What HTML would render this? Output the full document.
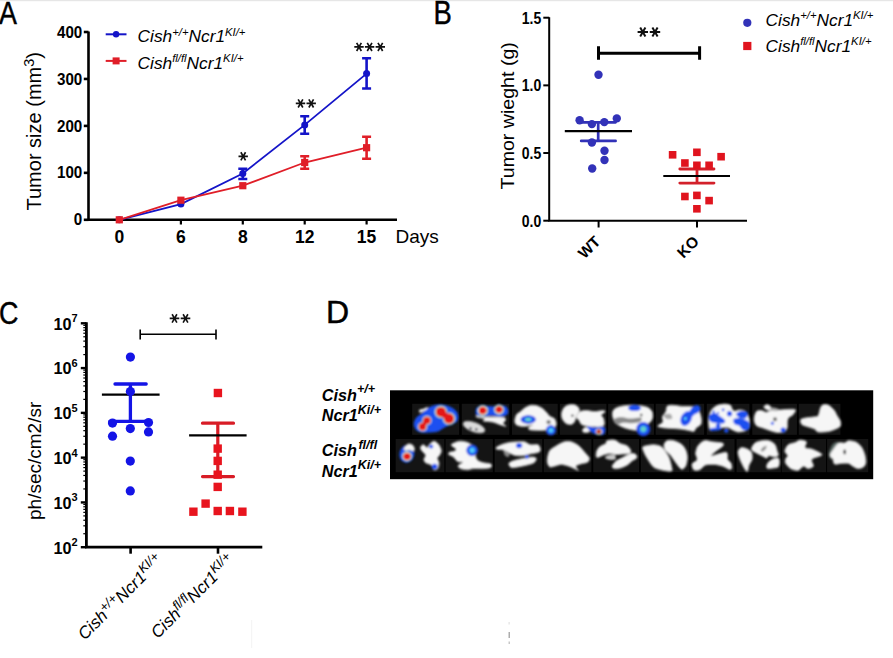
<!DOCTYPE html><html><head><meta charset="utf-8"><style>
html,body{margin:0;padding:0;background:#fff;width:893px;height:658px;overflow:hidden}
svg{display:block;filter:blur(0.3px)}
text{font-family:"Liberation Sans", sans-serif}
.b{font-weight:bold}
.i{font-style:italic}
</style></head><body>
<svg width="893" height="658" viewBox="0 0 893 658">
<rect x="0" y="0" width="893" height="658" fill="#fff"/>
<rect x="0" y="0" width="893" height="1.2" fill="#e6e6e6"/>

<text x="0" y="0" font-size="32" fill="#000" stroke="#000" stroke-width="0.45" transform="translate(-1,24) scale(0.84,1)">A</text>
<text x="0" y="0" font-size="33.5" fill="#000" stroke="#000" stroke-width="0.45" transform="translate(433.5,24.3) scale(0.82,1)">B</text>
<text x="0" y="0" font-size="32" fill="#000" stroke="#000" stroke-width="0.45" transform="translate(-1,324) scale(0.84,1)">C</text>
<text x="326" y="323" font-size="32" stroke="#000" stroke-width="0.5" transform="translate(327,323) scale(1.0,1) translate(-327,-323)">D</text>
<g stroke="#000" stroke-width="2.6" fill="none">
<path d="M88.5,31.5V221.10000000000002M87.2,219.8H397"/>
<path d="M83.8,219.80H88.5"/>
<path d="M83.8,172.85H88.5"/>
<path d="M83.8,125.90H88.5"/>
<path d="M83.8,78.95H88.5"/>
<path d="M83.8,32.00H88.5"/>
<path d="M180.9,219.8V224.5" stroke-width="2.2"/>
<path d="M242.8,219.8V224.5" stroke-width="2.2"/>
<path d="M304.7,219.8V224.5" stroke-width="2.2"/>
<path d="M366.6,219.8V224.5" stroke-width="2.2"/>
</g>
<text class="b" transform="translate(82.3,225.40) scale(0.95,1)" font-size="16" text-anchor="end">0</text>
<text class="b" transform="translate(82.3,178.45) scale(0.95,1)" font-size="16" text-anchor="end">100</text>
<text class="b" transform="translate(82.3,131.50) scale(0.95,1)" font-size="16" text-anchor="end">200</text>
<text class="b" transform="translate(82.3,84.55) scale(0.95,1)" font-size="16" text-anchor="end">300</text>
<text class="b" transform="translate(82.3,37.60) scale(0.95,1)" font-size="16" text-anchor="end">400</text>
<text class="b" x="119.3" y="243.2" font-size="17.5" text-anchor="middle">0</text>
<text class="b" x="180.9" y="243.2" font-size="17.5" text-anchor="middle">6</text>
<text class="b" x="242.8" y="243.2" font-size="17.5" text-anchor="middle">8</text>
<text class="b" x="304.7" y="243.2" font-size="17.5" text-anchor="middle">12</text>
<text class="b" x="366.6" y="243.2" font-size="17.5" text-anchor="middle">15</text>
<text x="395.5" y="243" font-size="19">Days</text>
<text transform="translate(41,210.5) rotate(-90)" font-size="20">Tumor size (mm<tspan font-size="14.5" dy="-7.5">3</tspan><tspan dy="7.5">)</tspan></text>
<polyline points="119.3,219.8 180.9,204.1 242.8,173.5 304.7,124.9 366.6,73.6" stroke="#1414c8" stroke-width="1.8" fill="none"/>
<circle cx="119.3" cy="219.8" r="3.5" fill="#1414c8"/>
<circle cx="180.9" cy="204.1" r="3.5" fill="#1414c8"/>
<circle cx="242.8" cy="173.5" r="3.5" fill="#1414c8"/>
<circle cx="304.7" cy="124.9" r="3.5" fill="#1414c8"/>
<circle cx="366.6" cy="73.6" r="3.5" fill="#1414c8"/>
<path d="M242.8,168.8V179M238.3,168.8H247.3M238.3,179H247.3" stroke="#1414c8" stroke-width="2.6" fill="none"/>
<path d="M304.7,116.2V133.7M300.2,116.2H309.2M300.2,133.7H309.2" stroke="#1414c8" stroke-width="2.6" fill="none"/>
<path d="M366.6,58.3V88.5M362.1,58.3H371.1M362.1,88.5H371.1" stroke="#1414c8" stroke-width="2.6" fill="none"/>
<polyline points="119.3,219.8 180.9,200.2 242.8,185.7 304.7,162.5 366.6,147.7" stroke="#e01e28" stroke-width="1.8" fill="none"/>
<rect x="115.7" y="216.20000000000002" width="7.2" height="7.2" fill="#e01e28"/>
<rect x="177.3" y="196.6" width="7.2" height="7.2" fill="#e01e28"/>
<rect x="239.20000000000002" y="182.1" width="7.2" height="7.2" fill="#e01e28"/>
<rect x="301.09999999999997" y="158.9" width="7.2" height="7.2" fill="#e01e28"/>
<rect x="363.0" y="144.1" width="7.2" height="7.2" fill="#e01e28"/>
<path d="M304.7,156.3V168.8M300.2,156.3H309.2M300.2,168.8H309.2" stroke="#e01e28" stroke-width="2.6" fill="none"/>
<path d="M366.6,136.8V158.7M362.1,136.8H371.1M362.1,158.7H371.1" stroke="#e01e28" stroke-width="2.6" fill="none"/>
<path d="M238.50,156.30L247.90,156.30M240.85,152.23L245.55,160.37M245.55,152.23L240.85,160.37" stroke="#111" stroke-width="1.65" fill="none"/>
<path d="M295.80,103.40L305.20,103.40M298.15,99.33L302.85,107.47M302.85,99.33L298.15,107.47" stroke="#111" stroke-width="1.65" fill="none"/>
<path d="M306.50,103.40L315.90,103.40M308.85,99.33L313.55,107.47M313.55,99.33L308.85,107.47" stroke="#111" stroke-width="1.65" fill="none"/>
<path d="M354.30,46.90L363.70,46.90M356.65,42.83L361.35,50.97M361.35,42.83L356.65,50.97" stroke="#111" stroke-width="1.65" fill="none"/>
<path d="M364.90,46.90L374.30,46.90M367.25,42.83L371.95,50.97M371.95,42.83L367.25,50.97" stroke="#111" stroke-width="1.65" fill="none"/>
<path d="M375.60,46.90L385.00,46.90M377.95,42.83L382.65,50.97M382.65,42.83L377.95,50.97" stroke="#111" stroke-width="1.65" fill="none"/>
<path d="M105.7,34.3H126.5" stroke="#1414c8" stroke-width="2"/><circle cx="116.1" cy="34.3" r="3.2" fill="#1414c8"/>
<path d="M105.7,60.9H126.5" stroke="#e01e28" stroke-width="2"/><rect x="112.6" y="57.4" width="7" height="7" fill="#e01e28"/>
<text class="i" x="137.6" y="42.4" font-size="17.3">Cish<tspan font-size="11.3" dy="-6.7">+/+</tspan><tspan dy="6.7">Ncr1</tspan><tspan font-size="11.3" dy="-6.7">KI/+</tspan></text>
<text class="i" x="137.6" y="68.7" font-size="17.3">Cish<tspan font-size="11.3" dy="-6.7">fl/fl</tspan><tspan dy="6.7">Ncr1</tspan><tspan font-size="11.3" dy="-6.7">KI/+</tspan></text>
<g stroke="#000" stroke-width="2.0" fill="none">
<path d="M549.2,17.19999999999999V221.7M548.2,220.7H747"/>
<path d="M543.3,220.70H549.2"/>
<path d="M543.3,153.03H549.2"/>
<path d="M543.3,85.37H549.2"/>
<path d="M543.3,17.70H549.2"/>
<path d="M598.6,220.7V227.5"/>
<path d="M697,220.7V227.5"/>
</g>
<text class="b" transform="translate(541.3,226.60) scale(0.85,1)" font-size="16.5" text-anchor="end">0.0</text>
<text class="b" transform="translate(541.3,158.93) scale(0.85,1)" font-size="16.5" text-anchor="end">0.5</text>
<text class="b" transform="translate(541.3,91.27) scale(0.85,1)" font-size="16.5" text-anchor="end">1.0</text>
<text class="b" transform="translate(541.3,23.60) scale(0.85,1)" font-size="16.5" text-anchor="end">1.5</text>
<text transform="translate(514,189.5) rotate(-90) scale(1.06,1)" font-size="18.5">Tumor wieght (g)</text>
<text class="b" transform="translate(601.5,242.5) rotate(-45)" font-size="15.5" text-anchor="end">WT</text>
<text class="b" transform="translate(700,242.5) rotate(-45)" font-size="15.5" text-anchor="end">KO</text>
<path d="M598.5,53.3H699.6M598.5,46.2V59.8M699.6,46.2V59.8" stroke="#000" stroke-width="3" fill="none"/>
<path d="M637.60,32.10L648.00,32.10M640.20,27.60L645.40,36.60M645.40,27.60L640.20,36.60" stroke="#111" stroke-width="2.0" fill="none"/>
<path d="M649.80,32.10L660.20,32.10M652.40,27.60L657.60,36.60M657.60,27.60L652.40,36.60" stroke="#111" stroke-width="2.0" fill="none"/>
<path d="M598.2,122.3V141M581.2,122.3H615.6M581.2,140.9H615.6" stroke="#3232b8" stroke-width="2.7" stroke-linecap="round" fill="none"/>
<path d="M564.8,131.2H632" stroke="#000" stroke-width="2.2"/>
<circle cx="598.5" cy="74.8" r="4.2" fill="#3232b8"/>
<circle cx="579.6" cy="120.3" r="4.2" fill="#3232b8"/>
<circle cx="591.9" cy="124.1" r="4.2" fill="#3232b8"/>
<circle cx="604.3" cy="122.1" r="4.2" fill="#3232b8"/>
<circle cx="616.8" cy="118.4" r="4.2" fill="#3232b8"/>
<circle cx="591.9" cy="142.5" r="4.2" fill="#3232b8"/>
<circle cx="604.5" cy="150.8" r="4.2" fill="#3232b8"/>
<circle cx="604.5" cy="160" r="4.2" fill="#3232b8"/>
<circle cx="592.2" cy="168.5" r="4.2" fill="#3232b8"/>
<path d="M697,169V183.1M679.8,169H714M679.8,183.1H714" stroke="#d3202a" stroke-width="2.8" stroke-linecap="round" fill="none"/>
<path d="M663.3,176H730" stroke="#000" stroke-width="2.2"/>
<rect x="668.8000000000001" y="151.0" width="7.6" height="7.6" fill="#e0141e"/>
<rect x="693.1" y="148.5" width="7.6" height="7.6" fill="#e0141e"/>
<rect x="717.3000000000001" y="152.89999999999998" width="7.6" height="7.6" fill="#e0141e"/>
<rect x="681.1" y="159.2" width="7.6" height="7.6" fill="#e0141e"/>
<rect x="693.1" y="161.5" width="7.6" height="7.6" fill="#e0141e"/>
<rect x="705.3000000000001" y="161.5" width="7.6" height="7.6" fill="#e0141e"/>
<rect x="681.1" y="192.7" width="7.6" height="7.6" fill="#e0141e"/>
<rect x="693.1" y="191.6" width="7.6" height="7.6" fill="#e0141e"/>
<rect x="705.3000000000001" y="196.79999999999998" width="7.6" height="7.6" fill="#e0141e"/>
<rect x="693.1" y="205.0" width="7.6" height="7.6" fill="#e0141e"/>
<circle cx="747.3" cy="22.8" r="4.1" fill="#3232b8"/>
<rect x="743.2" y="41.9" width="8.2" height="8.2" fill="#e0141e"/>
<text class="i" x="765.6" y="25.6" font-size="17.3">Cish<tspan font-size="11.3" dy="-6.7">+/+</tspan><tspan dy="6.7">Ncr1</tspan><tspan font-size="11.3" dy="-6.7">KI/+</tspan></text>
<text class="i" x="765.6" y="51.7" font-size="17.3">Cish<tspan font-size="11.3" dy="-6.7">fl/fl</tspan><tspan dy="6.7">Ncr1</tspan><tspan font-size="11.3" dy="-6.7">KI/+</tspan></text>
<g stroke="#000" fill="none">
<path d="M86.4,322.3V548.5M85.10000000000001,547.2H262.3" stroke-width="2.8"/>
<path d="M80.8,547.20H86.4" stroke-width="2.4"/>
<path d="M80.8,502.42H86.4" stroke-width="2.4"/>
<path d="M80.8,457.64H86.4" stroke-width="2.4"/>
<path d="M80.8,412.86H86.4" stroke-width="2.4"/>
<path d="M80.8,368.08H86.4" stroke-width="2.4"/>
<path d="M80.8,323.30H86.4" stroke-width="2.4"/>
<path d="M83.3,533.72H86.4" stroke-width="1.2"/>
<path d="M83.3,525.83H86.4" stroke-width="1.2"/>
<path d="M83.3,520.24H86.4" stroke-width="1.2"/>
<path d="M83.3,515.90H86.4" stroke-width="1.2"/>
<path d="M83.3,512.35H86.4" stroke-width="1.2"/>
<path d="M83.3,509.36H86.4" stroke-width="1.2"/>
<path d="M83.3,506.76H86.4" stroke-width="1.2"/>
<path d="M83.3,504.47H86.4" stroke-width="1.2"/>
<path d="M83.3,488.94H86.4" stroke-width="1.2"/>
<path d="M83.3,481.05H86.4" stroke-width="1.2"/>
<path d="M83.3,475.46H86.4" stroke-width="1.2"/>
<path d="M83.3,471.12H86.4" stroke-width="1.2"/>
<path d="M83.3,467.57H86.4" stroke-width="1.2"/>
<path d="M83.3,464.58H86.4" stroke-width="1.2"/>
<path d="M83.3,461.98H86.4" stroke-width="1.2"/>
<path d="M83.3,459.69H86.4" stroke-width="1.2"/>
<path d="M83.3,444.16H86.4" stroke-width="1.2"/>
<path d="M83.3,436.27H86.4" stroke-width="1.2"/>
<path d="M83.3,430.68H86.4" stroke-width="1.2"/>
<path d="M83.3,426.34H86.4" stroke-width="1.2"/>
<path d="M83.3,422.79H86.4" stroke-width="1.2"/>
<path d="M83.3,419.80H86.4" stroke-width="1.2"/>
<path d="M83.3,417.20H86.4" stroke-width="1.2"/>
<path d="M83.3,414.91H86.4" stroke-width="1.2"/>
<path d="M83.3,399.38H86.4" stroke-width="1.2"/>
<path d="M83.3,391.49H86.4" stroke-width="1.2"/>
<path d="M83.3,385.90H86.4" stroke-width="1.2"/>
<path d="M83.3,381.56H86.4" stroke-width="1.2"/>
<path d="M83.3,378.01H86.4" stroke-width="1.2"/>
<path d="M83.3,375.02H86.4" stroke-width="1.2"/>
<path d="M83.3,372.42H86.4" stroke-width="1.2"/>
<path d="M83.3,370.13H86.4" stroke-width="1.2"/>
<path d="M83.3,354.60H86.4" stroke-width="1.2"/>
<path d="M83.3,346.71H86.4" stroke-width="1.2"/>
<path d="M83.3,341.12H86.4" stroke-width="1.2"/>
<path d="M83.3,336.78H86.4" stroke-width="1.2"/>
<path d="M83.3,333.23H86.4" stroke-width="1.2"/>
<path d="M83.3,330.24H86.4" stroke-width="1.2"/>
<path d="M83.3,327.64H86.4" stroke-width="1.2"/>
<path d="M83.3,325.35H86.4" stroke-width="1.2"/>
<path d="M130.6,547.2V553.7" stroke-width="2.6"/>
<path d="M218,547.2V553.7" stroke-width="2.6"/>
</g>
<text class="b" x="53.5" y="553.50" font-size="16.2">10<tspan font-size="11" dy="-7.3">2</tspan></text>
<text class="b" x="53.5" y="508.72" font-size="16.2">10<tspan font-size="11" dy="-7.3">3</tspan></text>
<text class="b" x="53.5" y="463.94" font-size="16.2">10<tspan font-size="11" dy="-7.3">4</tspan></text>
<text class="b" x="53.5" y="419.16" font-size="16.2">10<tspan font-size="11" dy="-7.3">5</tspan></text>
<text class="b" x="53.5" y="374.38" font-size="16.2">10<tspan font-size="11" dy="-7.3">6</tspan></text>
<text class="b" x="53.5" y="329.60" font-size="16.2">10<tspan font-size="11" dy="-7.3">7</tspan></text>
<text transform="translate(41.2,520) rotate(-90)" font-size="19">ph/sec/cm2/sr</text>
<path d="M140.2,334.3H216M140.2,329.5V339.6M216,329.5V339.6" stroke="#000" stroke-width="1.6" fill="none"/>
<path d="M169.70,318.40L179.30,318.40M172.10,314.24L176.90,322.56M176.90,314.24L172.10,322.56" stroke="#111" stroke-width="1.6" fill="none"/>
<path d="M180.70,318.40L190.30,318.40M183.10,314.24L187.90,322.56M187.90,314.24L183.10,322.56" stroke="#111" stroke-width="1.6" fill="none"/>
<path d="M130.4,384V421.3M115,384H146.2M109.8,421.3H150" stroke="#1414e6" stroke-width="3.3" stroke-linecap="round" fill="none"/>
<path d="M101.9,394.6H159.6" stroke="#000" stroke-width="2.4"/>
<circle cx="130.4" cy="357.1" r="4.6" fill="#1414e6"/>
<circle cx="130.4" cy="391.6" r="4.6" fill="#1414e6"/>
<circle cx="112.5" cy="423.1" r="4.6" fill="#1414e6"/>
<circle cx="148.5" cy="422.5" r="4.6" fill="#1414e6"/>
<circle cx="130.3" cy="428.6" r="4.6" fill="#1414e6"/>
<circle cx="112.5" cy="436.2" r="4.6" fill="#1414e6"/>
<circle cx="148.5" cy="431.9" r="4.6" fill="#1414e6"/>
<circle cx="130.3" cy="461.1" r="4.6" fill="#1414e6"/>
<circle cx="130.3" cy="490.9" r="4.6" fill="#1414e6"/>
<path d="M217.8,423.2V476.6M202.5,423.2H233.5M202.5,476.6H233.5" stroke="#d81c26" stroke-width="3.2" stroke-linecap="round" fill="none"/>
<path d="M189.1,435.4H246.6" stroke="#000" stroke-width="2.4"/>
<rect x="213.70000000000002" y="388.8" width="8.4" height="8.4" fill="#e8141e"/>
<rect x="213.5" y="444.40000000000003" width="8.4" height="8.4" fill="#e8141e"/>
<rect x="213.5" y="456.7" width="8.4" height="8.4" fill="#e8141e"/>
<rect x="213.5" y="470.5" width="8.4" height="8.4" fill="#e8141e"/>
<rect x="213.5" y="482.7" width="8.4" height="8.4" fill="#e8141e"/>
<rect x="189.20000000000002" y="507.5" width="8.4" height="8.4" fill="#e8141e"/>
<rect x="201.4" y="499.40000000000003" width="8.4" height="8.4" fill="#e8141e"/>
<rect x="213.5" y="506.8" width="8.4" height="8.4" fill="#e8141e"/>
<rect x="225.70000000000002" y="506.8" width="8.4" height="8.4" fill="#e8141e"/>
<rect x="238.20000000000002" y="507.5" width="8.4" height="8.4" fill="#e8141e"/>
<text class="i" transform="translate(164,561.5) rotate(-45)" font-size="17" text-anchor="end">Cish<tspan font-size="13" dy="-6">+/+</tspan><tspan dy="6">Ncr1</tspan><tspan font-size="13" dy="-6">KI/+</tspan></text>
<text class="i" transform="translate(235.5,561.5) rotate(-45)" font-size="17" text-anchor="end">Cish<tspan font-size="13" dy="-6">fl/fl</tspan><tspan dy="6">Ncr1</tspan><tspan font-size="13" dy="-6">KI/+</tspan></text>
<text class="b i" x="321.8" y="400.5" font-size="16.2">Cish<tspan font-size="12.5" dy="-7.5">+/+</tspan></text>
<text class="b i" x="321.8" y="421.1" font-size="16.2">Ncr1<tspan font-size="12.5" dy="-7.5">Ki/+</tspan></text>
<text class="b i" x="321.8" y="456" font-size="16.2">Cish<tspan font-size="12.5" dy="-7.5"><tspan dx="1.5">fl/fl</tspan></tspan></text>
<text class="b i" x="321.8" y="476.6" font-size="16.2">Ncr1<tspan font-size="12.5" dy="-7.5">Ki/+</tspan></text>
<rect x="390" y="390.3" width="483.2" height="88.9" fill="#000"/>
<g fill="#141414">
<rect x="412.2" y="403.8" width="46.9" height="31"/>
<rect x="461.8" y="403.8" width="47.5" height="31"/>
<rect x="512" y="403.8" width="45.7" height="31"/>
<rect x="559.9" y="403.8" width="46.5" height="31"/>
<rect x="608.2" y="403.8" width="45.7" height="31"/>
<rect x="655.7" y="403.8" width="48.4" height="31"/>
<rect x="706.8" y="403.8" width="42.6" height="31"/>
<rect x="752.3" y="403.8" width="44.6" height="31"/>
<rect x="798.8" y="403.8" width="41.6" height="31"/>
<rect x="395.7" y="439" width="48.6" height="33.2"/>
<rect x="445.6" y="439" width="47.2" height="33.2"/>
<rect x="494.7" y="439" width="47.6" height="33.2"/>
<rect x="543.8" y="439" width="47.6" height="33.2"/>
<rect x="593.3" y="439" width="45.7" height="33.2"/>
<rect x="640.9" y="439" width="48.5" height="33.2"/>
<rect x="690.3" y="439" width="44.2" height="33.2"/>
<rect x="736.6" y="439" width="44.2" height="33.2"/>
<rect x="781.8" y="439" width="44.2" height="33.2"/>
<rect x="827.1" y="439" width="41.1" height="33.2"/>
</g>
<defs><filter id="bl" x="-5%" y="-20%" width="110%" height="140%"><feGaussianBlur stdDeviation="0.9"/></filter>
<radialGradient id="hot"><stop offset="0" stop-color="#e41414"/><stop offset="0.6" stop-color="#e41414"/><stop offset="0.7" stop-color="#f8f0c8"/><stop offset="0.8" stop-color="#90e0b0"/><stop offset="0.9" stop-color="#3088ff"/><stop offset="1" stop-color="#1a50f0" stop-opacity="0"/></radialGradient>
<radialGradient id="cool"><stop offset="0" stop-color="#80e080"/><stop offset="0.3" stop-color="#50c8e8"/><stop offset="0.55" stop-color="#1a50f0"/><stop offset="0.85" stop-color="#1a40e0"/><stop offset="1" stop-color="#1a40e0" stop-opacity="0"/></radialGradient>
<radialGradient id="cyan"><stop offset="0" stop-color="#70e8ff"/><stop offset="0.35" stop-color="#40b8f8"/><stop offset="0.6" stop-color="#1a50f0"/><stop offset="0.85" stop-color="#1a40e0"/><stop offset="1" stop-color="#1a40e0" stop-opacity="0"/></radialGradient>
</defs>
<g filter="url(#bl)"><path d="M414.1,422.1C414.4,420.8 415.3,418.8 416.4,417.5C417.5,416.2 420.0,414.8 421.6,413.4C423.3,412.0 425.6,409.4 427.5,408.2C429.4,406.9 432.2,405.8 434.5,405.2C436.7,404.7 440.2,404.4 442.6,404.7C445.1,404.9 448.7,405.9 450.8,407.0C452.9,408.0 455.5,410.1 456.6,411.6C457.7,413.2 458.3,415.9 458.3,417.5C458.3,419.0 457.7,421.1 456.6,422.1C455.5,423.2 452.7,423.6 450.8,424.5C448.8,425.3 445.7,426.9 443.8,428.0C441.9,429.0 440.2,430.8 438.0,431.5C435.7,432.1 431.1,432.4 428.6,432.6C426.2,432.8 423.5,433.0 421.6,432.6C419.8,432.3 417.5,431.2 416.4,430.3C415.3,429.3 414.4,427.4 414.1,426.2C413.7,425.0 413.7,423.4 414.1,422.1Z" fill="#1a50f0"/><path d="M419.3,409.9C419.9,409.4 422.2,409.2 423.4,408.7C424.6,408.3 426.9,406.9 427.5,407.0C428.0,407.1 427.8,408.5 426.9,409.3C426.0,410.1 422.8,411.8 421.6,412.2C420.5,412.7 419.7,412.6 419.3,412.2C419.0,411.9 418.7,410.4 419.3,409.9Z" fill="#f0f0f0"/><circle cx="440.9" cy="411.9" r="7.2" fill="url(#hot)"/><circle cx="449.0" cy="418.6" r="7.2" fill="url(#hot)"/><circle cx="426.9" cy="420.4" r="5.4" fill="url(#hot)"/><circle cx="422.5" cy="426.8" r="5.4" fill="url(#hot)"/><circle cx="440.9" cy="411.9" r="5.0" fill="#e41414"/><circle cx="449.0" cy="418.6" r="5.0" fill="#e41414"/><circle cx="444.9" cy="415.3" r="3.2" fill="#e41414"/><circle cx="426.9" cy="420.4" r="3.7" fill="#e41414"/><circle cx="422.5" cy="426.8" r="3.7" fill="#e41414"/><circle cx="424.7" cy="423.6" r="2.4" fill="#e41414"/><path d="M475.7,411.6C475.7,410.4 475.9,408.4 476.9,407.6C477.9,406.7 479.8,406.0 482.1,405.8C484.5,405.6 489.8,406.5 492.6,406.4C495.4,406.3 498.7,405.2 500.8,405.2C502.9,405.3 505.5,406.0 506.6,407.0C507.7,407.9 508.3,410.4 508.3,411.6C508.3,412.9 507.7,414.4 506.6,415.1C505.5,415.9 502.9,416.8 500.8,416.9C498.7,417.0 495.1,415.8 492.6,415.7C490.2,415.6 486.8,416.3 484.5,416.3C482.1,416.3 478.2,416.4 476.9,415.7C475.6,415.0 475.7,412.9 475.7,411.6Z" fill="#1a50f0"/><circle cx="482.7" cy="410.5" r="6" fill="url(#hot)"/><circle cx="499.0" cy="409.6" r="5.6" fill="url(#hot)"/><ellipse cx="482.7" cy="410.5" rx="3.6" ry="3.2" fill="#e41414"/><ellipse cx="499.0" cy="409.6" rx="3.3" ry="3.0" fill="#e41414"/><path d="M476.3,415.7C477.5,415.6 482.8,416.7 485.6,416.9C488.4,417.1 492.1,416.8 494.9,416.9C497.7,417.0 502.7,416.9 504.3,417.5C505.8,418.0 505.6,419.5 505.4,420.4C505.3,421.3 503.0,422.4 503.1,423.3C503.2,424.2 506.4,425.9 506.0,426.2C505.7,426.5 502.8,425.7 500.8,425.0C498.8,424.4 495.2,422.7 492.6,422.1C490.0,421.5 484.5,421.5 483.3,421.0C482.1,420.4 485.3,419.2 484.5,418.6C483.6,418.1 478.7,417.9 477.5,417.5C476.2,417.0 475.1,415.8 476.3,415.7Z" fill="#f6f6f6" stroke="#b8b8b8" stroke-width="1.0"/><ellipse cx="474.0" cy="427.1" rx="11.5" ry="4.6" transform="rotate(20 474.0 427.1)" fill="#dcdcdc" stroke="#aaa" stroke-width="0.8"/><circle cx="470.5" cy="428.5" r="1.2" fill="#223"/><circle cx="476.3" cy="429.4" r="1.2" fill="#223"/><path d="M514.8,420.4C514.9,418.9 515.7,415.9 516.6,414.6C517.4,413.2 519.3,412.7 520.6,411.6C522.0,410.6 523.7,408.5 525.3,407.6C526.9,406.6 529.4,405.5 531.1,405.2C532.9,405.0 535.2,405.3 537.0,405.8C538.7,406.3 541.3,407.7 542.8,408.7C544.3,409.8 545.8,411.7 546.9,412.8C547.9,413.9 548.6,415.4 549.8,416.3C550.9,417.2 553.5,417.6 554.4,418.6C555.4,419.7 556.1,422.0 556.2,423.3C556.3,424.6 555.8,426.5 555.0,427.4C554.2,428.2 552.6,428.7 550.9,429.1C549.3,429.6 546.0,430.1 543.9,430.3C541.8,430.5 539.1,430.4 537.0,430.3C534.8,430.2 530.6,430.1 529.4,429.7C528.2,429.3 528.4,428.1 528.8,427.4C529.2,426.7 532.6,425.2 532.3,425.0C531.9,424.9 528.2,426.0 526.5,426.2C524.7,426.4 522.2,426.5 520.6,426.2C519.1,425.9 516.9,425.3 516.0,424.5C515.1,423.6 514.7,421.9 514.8,420.4Z" fill="#f6f6f6" stroke="#b8b8b8" stroke-width="1.0"/><circle cx="548.6" cy="422.1" r="2.2" fill="#777"/><ellipse cx="528.2" cy="419.5" rx="8.2" ry="4.6" fill="url(#cool)"/><circle cx="550.9" cy="430.3" r="5.5" fill="url(#cyan)"/><path d="M561.7,412.8C562.0,411.1 563.3,408.2 564.6,407.0C565.8,405.8 568.2,404.9 569.8,404.7C571.5,404.4 574.2,404.6 575.6,405.2C577.0,405.9 578.7,407.3 579.1,408.7C579.6,410.1 579.1,413.1 578.5,414.6C578.0,416.0 576.2,417.5 575.6,418.6C575.0,419.8 575.2,421.3 574.5,422.1C573.8,423.0 572.3,424.3 571.0,424.5C569.7,424.6 567.0,424.2 565.7,423.3C564.4,422.4 562.9,420.2 562.2,418.6C561.6,417.1 561.3,414.6 561.7,412.8Z" fill="#f6f6f6" stroke="#b8b8b8" stroke-width="1.0"/><circle cx="572.4" cy="415.7" r="1.1" fill="#222"/><path d="M578.0,413.4C578.8,412.4 580.1,411.5 581.5,411.1C582.9,410.6 585.4,410.4 587.3,410.5C589.2,410.6 591.8,411.6 594.3,411.6C596.7,411.6 602.0,410.4 603.6,410.5C605.2,410.6 605.1,411.5 604.8,412.2C604.4,412.9 601.4,414.2 601.3,415.1C601.1,416.1 603.2,417.2 603.6,418.6C604.0,420.0 604.5,423.2 604.2,424.5C603.8,425.7 602.9,426.4 601.3,426.8C599.6,427.1 595.2,426.9 593.1,426.8C591.0,426.7 589.0,426.6 587.3,426.2C585.5,425.9 582.7,425.3 581.5,424.5C580.2,423.6 579.9,421.4 579.1,420.4C578.3,419.3 576.4,418.5 576.2,417.5C576.0,416.4 577.2,414.4 578.0,413.4Z" fill="#f6f6f6" stroke="#b8b8b8" stroke-width="1.0"/><path d="M582.6,429.7C582.9,429.0 584.1,427.6 585.0,427.4C585.8,427.1 587.8,427.3 588.5,428.0C589.1,428.6 590.0,430.8 589.6,431.5C589.3,432.1 587.1,432.5 586.1,432.6C585.2,432.7 583.7,432.5 583.2,432.0C582.7,431.6 582.4,430.4 582.6,429.7Z" fill="#f6f6f6" stroke="#b8b8b8" stroke-width="1.0"/><path d="M587.3,426.2C588.2,425.9 591.8,427.3 594.3,427.4C596.7,427.5 601.9,426.4 603.6,426.8C605.3,427.2 605.3,429.1 605.3,430.3C605.3,431.4 604.7,433.7 603.6,434.4C602.5,435.1 599.5,435.2 597.8,434.9C596.0,434.7 593.3,433.5 591.9,432.6C590.5,431.7 589.1,430.1 588.5,429.1C587.8,428.2 586.4,426.5 587.3,426.2Z" fill="#1a50f0"/><circle cx="598.9" cy="431.7" r="3.8" fill="url(#hot)"/><circle cx="598.9" cy="431.7" r="2.2" fill="#b83020"/><path d="M612.4,414.6C612.3,412.6 612.9,410.5 614.2,409.3C615.4,408.1 618.1,407.0 620.6,406.4C623.0,405.8 627.4,405.3 630.5,405.2C633.5,405.2 638.3,405.5 640.9,405.8C643.6,406.2 646.3,406.7 647.9,407.6C649.6,408.4 651.3,410.2 652.0,411.6C652.7,413.1 652.9,415.9 652.6,417.5C652.3,419.0 651.1,421.1 650.3,422.1C649.4,423.2 648.0,423.4 646.8,424.5C645.5,425.5 643.9,428.2 642.1,429.1C640.4,430.0 637.5,430.4 635.1,430.3C632.8,430.2 628.7,429.2 626.4,428.5C624.0,427.8 621.1,426.6 619.4,425.6C617.6,424.7 615.8,423.8 614.7,422.1C613.7,420.5 612.5,416.5 612.4,414.6Z" fill="#f6f6f6" stroke="#b8b8b8" stroke-width="1.0"/><path d="M614.7,418.6C615.8,417.9 618.8,416.9 621.1,416.9C623.5,416.9 627.5,418.5 630.5,418.6C633.4,418.7 639.5,417.0 640.9,417.5C642.4,417.9 641.7,420.7 640.4,421.5C639.1,422.4 634.7,423.1 632.2,423.3C629.7,423.5 625.7,422.5 623.5,422.7C621.3,422.9 619.0,424.5 617.6,424.5C616.3,424.4 614.6,423.0 614.2,422.1C613.7,421.3 613.7,419.4 614.7,418.6Z" fill="#8a8a8a"/><ellipse cx="634.5" cy="407.9" rx="6.4" ry="3.2" fill="#1a50f0"/><circle cx="641.2" cy="415.0" r="1.2" fill="#222"/><circle cx="643.3" cy="429.1" r="7.6" fill="url(#cool)"/><path d="M657.7,426.2C657.4,425.3 662.2,423.5 662.9,422.1C663.6,420.7 661.9,418.5 662.3,416.9C662.8,415.3 665.1,413.2 665.8,411.6C666.5,410.1 666.0,407.4 667.0,406.4C667.9,405.4 669.9,405.2 672.2,405.2C674.5,405.2 679.4,406.2 682.1,406.4C684.8,406.6 688.0,406.2 690.3,406.4C692.5,406.6 695.9,406.7 697.3,407.6C698.7,408.4 699.0,410.6 699.6,412.2C700.2,413.9 701.2,416.8 701.3,418.6C701.5,420.5 701.5,423.1 700.8,424.5C700.0,425.9 697.1,426.9 696.1,428.0C695.1,429.0 695.0,431.1 693.8,431.5C692.5,431.8 689.9,430.6 687.9,430.3C686.0,429.9 683.1,429.4 681.0,429.1C678.8,428.9 675.8,428.7 673.4,428.5C670.9,428.4 667.0,428.3 664.6,428.0C662.3,427.6 657.9,427.1 657.7,426.2Z" fill="#f6f6f6" stroke="#b8b8b8" stroke-width="1.0"/><path d="M664.1,414.6C664.9,414.0 669.2,413.4 670.5,414.0C671.7,414.6 672.7,417.9 672.2,418.6C671.8,419.4 668.7,419.4 667.6,419.2C666.4,419.0 665.2,418.2 664.6,417.5C664.1,416.8 663.2,415.1 664.1,414.6Z" fill="#aaa"/><ellipse cx="686.2" cy="418.6" rx="5.3" ry="7.6" transform="rotate(25 686.2 418.6)" fill="#1a50f0"/><ellipse cx="695.5" cy="409.6" rx="5.2" ry="4" transform="rotate(-30 695.5 409.6)" fill="#1a50f0"/><path d="M687.9,413.4C688.4,411.9 692.4,407.9 693.8,407.6C695.2,407.2 697.7,409.6 697.3,411.1C696.8,412.6 692.3,417.1 690.9,417.5C689.5,417.8 687.5,414.9 687.9,413.4Z" fill="#1a50f0"/><circle cx="685.3" cy="418.6" r="3.2" fill="url(#cyan)"/><path d="M708.8,417.5C709.2,415.4 710.0,412.2 711.2,410.5C712.3,408.7 714.5,406.8 716.4,405.8C718.3,404.9 721.9,404.2 724.0,404.1C726.1,404.0 729.2,404.5 730.4,405.2C731.6,405.9 731.5,407.9 732.1,408.7C732.7,409.6 733.4,410.9 734.5,411.1C735.5,411.2 737.5,409.9 739.1,409.9C740.7,409.9 743.5,410.1 744.9,411.1C746.3,412.0 747.7,414.6 748.4,416.3C749.1,418.0 749.5,420.4 749.6,422.1C749.7,423.9 749.7,426.6 749.0,428.0C748.3,429.3 746.6,430.3 744.9,430.9C743.3,431.5 739.7,432.1 737.9,432.0C736.2,431.9 734.9,431.0 733.3,430.3C731.7,429.6 729.4,427.7 727.5,427.4C725.5,427.0 722.4,427.7 720.5,428.0C718.6,428.2 716.2,428.8 714.6,429.1C713.1,429.5 710.9,431.0 710.0,430.3C709.1,429.6 709.0,426.4 708.8,424.5C708.6,422.5 708.5,419.6 708.8,417.5Z" fill="#f6f6f6" stroke="#b8b8b8" stroke-width="1.0"/><path d="M709.4,415.1C710.3,414.3 713.1,412.6 714.6,412.8C716.2,413.0 718.3,415.2 719.9,416.3C721.5,417.4 724.6,419.3 725.1,420.4C725.7,421.4 724.5,422.9 723.4,423.3C722.2,423.7 719.4,423.5 717.6,423.3C715.7,423.1 712.5,422.8 711.2,422.1C709.8,421.4 709.1,419.7 708.8,418.6C708.6,417.6 708.5,416.0 709.4,415.1Z" fill="#1a50f0"/><path d="M709.4,428.5C710.1,428.0 714.5,427.5 716.4,427.4C718.3,427.3 721.8,427.5 722.2,428.0C722.7,428.4 720.9,429.8 719.3,430.3C717.7,430.7 713.2,431.1 711.7,430.9C710.3,430.6 708.7,429.1 709.4,428.5Z" fill="#1a50f0"/><path d="M736.2,414.0C736.5,413.0 739.3,411.4 740.9,411.1C742.4,410.7 745.6,411.0 746.7,411.6C747.7,412.3 748.1,414.1 747.8,415.1C747.6,416.2 746.2,418.3 744.9,418.6C743.6,419.0 740.4,418.2 739.1,417.5C737.8,416.8 735.9,414.9 736.2,414.0Z" fill="#1a50f0"/><path d="M733.3,419.8C733.8,418.9 736.4,418.1 737.9,418.1C739.5,418.0 742.1,418.6 743.8,419.2C745.4,419.8 748.1,420.9 749.0,422.1C749.9,423.4 749.9,426.2 749.6,427.4C749.3,428.6 748.3,429.9 747.3,430.3C746.2,430.6 743.8,430.4 742.6,429.7C741.4,429.0 740.3,426.5 739.1,425.6C737.9,424.8 735.3,424.8 734.5,423.9C733.6,423.0 732.8,420.7 733.3,419.8Z" fill="#1a50f0"/><circle cx="729.5" cy="413.7" r="2.6" fill="#1a50f0"/><circle cx="726.3" cy="430.6" r="2.2" fill="#1a50f0"/><circle cx="718.1" cy="425.6" r="2.4" fill="#1a50f0"/><circle cx="713.5" cy="411.6" r="1.2" fill="#1a50f0"/><circle cx="718.1" cy="413.1" r="1.1" fill="#1a50f0"/><circle cx="723.1" cy="409.9" r="1.3" fill="#1a50f0"/><path d="M754.1,419.2C754.1,417.1 755.3,413.0 756.4,411.6C757.5,410.3 760.2,410.4 761.6,410.5C763.1,410.6 764.7,412.3 766.3,412.2C767.9,412.1 770.0,410.3 772.1,409.9C774.2,409.6 777.7,410.0 780.3,409.9C782.9,409.8 787.3,409.3 789.6,409.3C791.9,409.3 794.9,409.1 795.4,409.9C796.0,410.7 794.1,413.3 793.1,414.6C792.1,415.8 789.3,416.9 788.4,418.1C787.6,419.2 787.4,420.7 787.3,422.1C787.1,423.5 787.6,426.0 787.3,427.4C786.9,428.8 786.3,430.7 784.9,431.5C783.5,432.2 780.1,432.7 778.0,432.6C775.9,432.5 773.2,431.6 771.0,430.9C768.7,430.2 765.0,428.7 762.8,428.0C760.6,427.2 757.7,426.9 756.4,425.6C755.1,424.3 754.1,421.3 754.1,419.2Z" fill="#f6f6f6" stroke="#b8b8b8" stroke-width="1.0"/><path d="M764.0,406.4C764.3,405.9 765.9,404.7 766.9,404.7C767.9,404.7 769.8,405.6 770.4,406.4C771.0,407.2 771.4,409.4 771.0,409.9C770.5,410.4 768.4,410.2 767.5,409.9C766.5,409.6 765.1,408.7 764.6,408.2C764.0,407.6 763.6,406.9 764.0,406.4Z" fill="#f6f6f6" stroke="#b8b8b8" stroke-width="1.0"/><path d="M771.0,407.6C771.9,407.3 777.0,408.2 778.0,408.7C778.9,409.3 778.3,410.8 777.4,411.1C776.4,411.3 772.5,411.0 771.5,410.5C770.6,410.0 770.0,407.8 771.0,407.6Z" fill="#aaa"/><circle cx="775.0" cy="419.2" r="2.0" fill="#666"/><circle cx="772.4" cy="423.3" r="1.5" fill="#1a50f0"/><circle cx="783.2" cy="430.0" r="2.6" fill="#1a50f0"/><path d="M800.7,419.8C801.1,418.8 802.8,418.5 804.7,418.1C806.7,417.6 811.5,417.2 813.5,416.9C815.5,416.5 817.1,417.1 818.1,415.7C819.2,414.3 819.7,409.2 820.5,407.6C821.2,405.9 822.2,405.0 823.4,404.7C824.6,404.3 827.0,404.4 828.6,405.2C830.3,406.1 833.2,409.0 834.4,410.5C835.7,412.0 835.9,413.6 836.8,415.1C837.6,416.7 839.7,419.3 840.3,421.0C840.8,422.6 841.0,425.0 840.3,426.2C839.6,427.4 837.4,428.3 835.6,429.1C833.9,429.9 831.2,431.0 828.6,431.5C826.0,431.9 820.2,432.4 818.1,432.0C816.0,431.7 816.2,429.9 814.6,429.1C813.1,428.3 809.6,427.5 807.6,426.8C805.7,426.1 802.9,425.5 801.8,424.5C800.8,423.4 800.2,420.8 800.7,419.8Z" fill="#f6f6f6" stroke="#b8b8b8" stroke-width="1.0"/><ellipse cx="406.9" cy="453.8" rx="7.4" ry="9" transform="rotate(12 406.9 453.8)" fill="#1a50f0"/><path d="M404.1,448.2C404.4,447.3 406.3,444.7 407.6,444.2C408.8,443.6 411.2,444.0 412.2,444.7C413.3,445.4 414.4,447.9 414.5,448.8C414.7,449.8 414.2,451.0 413.4,451.1C412.6,451.3 410.5,450.1 409.3,450.0C408.1,449.9 406.0,450.8 405.2,450.6C404.4,450.3 403.7,449.2 404.1,448.2Z" fill="#f6f6f6" stroke="#b8b8b8" stroke-width="1.0"/><circle cx="407.0" cy="456.4" r="5.6" fill="url(#hot)"/><circle cx="407.0" cy="456.4" r="3.5" fill="#e41414"/><path d="M420.4,447.6C420.5,446.7 422.2,444.7 423.3,444.7C424.3,444.7 426.5,447.6 427.4,447.6C428.2,447.6 428.1,445.7 429.1,444.7C430.1,443.8 432.4,441.3 433.8,441.2C435.2,441.2 437.3,442.8 438.4,444.2C439.6,445.6 441.2,448.9 441.3,450.6C441.5,452.2 440.2,454.1 439.6,455.2C439.0,456.4 437.4,457.0 437.3,458.1C437.2,459.3 438.9,461.2 439.0,462.8C439.1,464.4 438.6,467.6 437.8,468.6C437.1,469.7 434.7,470.3 433.8,469.8C432.8,469.3 432.7,466.2 431.4,465.1C430.2,464.1 426.8,463.7 425.6,462.8C424.5,461.9 423.9,460.4 423.9,459.3C423.9,458.2 425.9,456.4 425.6,455.2C425.4,454.0 422.9,452.3 422.1,451.1C421.3,450.0 420.2,448.6 420.4,447.6Z" fill="#f6f6f6" stroke="#b8b8b8" stroke-width="1.0"/><circle cx="431.1" cy="446.5" r="2.1" fill="#1a50f0"/><circle cx="434.6" cy="466.6" r="2.9" fill="#1a50f0"/><path d="M451.2,444.7C451.7,443.6 456.9,441.6 459.3,441.2C461.8,440.9 465.4,441.7 467.5,442.4C469.6,443.1 471.9,444.9 473.3,445.9C474.7,446.9 476.4,447.9 476.8,449.4C477.1,450.9 475.4,454.1 475.6,455.8C475.8,457.5 476.7,459.4 477.9,460.5C479.2,461.5 481.8,462.3 483.8,462.8C485.7,463.3 489.7,463.3 490.8,464.0C491.8,464.7 491.8,466.8 490.8,467.5C489.7,468.1 486.4,468.4 483.8,468.6C481.1,468.8 475.7,468.4 473.3,468.6C470.8,468.8 469.4,469.8 467.5,469.8C465.5,469.8 461.9,469.2 460.5,468.6C459.1,468.0 457.8,466.7 458.1,465.7C458.5,464.7 462.9,462.8 462.8,462.2C462.7,461.6 459.0,462.4 457.6,461.6C456.2,460.8 454.8,458.0 453.5,457.0C452.2,455.9 449.4,455.3 448.8,454.6C448.2,453.9 448.5,452.8 449.4,452.3C450.3,451.8 453.7,451.7 454.6,451.1C455.6,450.6 456.3,449.8 455.8,448.8C455.3,447.9 450.6,445.9 451.2,444.7Z" fill="#f6f6f6" stroke="#b8b8b8" stroke-width="1.0"/><circle cx="472.1" cy="450.3" r="6.2" fill="url(#cyan)"/><path d="M503.6,450.0C504.3,449.7 508.8,452.4 509.5,453.5C510.2,454.5 509.0,456.7 508.3,457.0C507.6,457.2 505.5,456.3 504.8,455.2C504.1,454.2 502.9,450.2 503.6,450.0Z" fill="#888"/><path d="M496.1,447.6C496.7,446.9 499.3,445.5 501.3,444.7C503.3,443.9 506.9,442.8 509.5,442.4C512.0,442.0 515.9,441.9 518.2,441.8C520.5,441.7 522.8,441.4 524.6,441.8C526.4,442.3 528.4,444.3 530.4,444.7C532.4,445.2 536.5,444.0 538.0,444.7C539.5,445.4 540.3,448.3 540.3,449.4C540.4,450.5 540.2,451.6 538.6,452.3C537.0,453.0 532.3,453.5 529.9,454.1C527.4,454.6 524.6,455.6 522.3,455.8C519.9,456.0 516.2,455.7 514.1,455.2C512.0,454.7 509.9,453.1 508.3,452.3C506.7,451.5 505.3,450.4 503.6,450.0C502.0,449.5 498.4,449.7 497.2,449.4C496.1,449.0 495.5,448.3 496.1,447.6Z" fill="#f6f6f6" stroke="#b8b8b8" stroke-width="1.0"/><path d="M508.9,463.4C509.3,462.3 511.8,461.2 514.1,460.5C516.5,459.7 521.8,458.7 524.6,458.1C527.4,457.6 531.0,456.9 532.8,457.0C534.5,457.1 536.1,457.8 536.3,458.7C536.4,459.6 535.3,461.8 533.9,462.8C532.5,463.8 529.3,464.5 526.9,465.1C524.6,465.7 520.6,466.5 518.2,466.9C515.8,467.2 512.6,468.0 511.2,467.5C509.8,466.9 508.5,464.4 508.9,463.4Z" fill="#f6f6f6" stroke="#b8b8b8" stroke-width="1.0"/><ellipse cx="519.1" cy="445.6" rx="3.1" ry="2.7" fill="#1a50f0"/><circle cx="526.9" cy="456.7" r="2.0" fill="#1a50f0"/><path d="M547.4,458.1C547.8,456.3 548.4,452.4 549.7,450.6C551.0,448.7 554.0,447.2 556.1,445.9C558.3,444.6 562.0,442.4 564.3,441.8C566.6,441.2 569.1,441.2 571.3,441.8C573.5,442.4 576.8,444.2 578.9,445.9C581.0,447.6 583.7,451.1 585.3,452.9C586.8,454.7 589.0,456.7 589.3,458.1C589.7,459.5 588.9,461.3 587.6,462.2C586.3,463.1 582.4,463.3 580.6,464.0C578.9,464.6 576.3,465.3 575.9,466.3C575.6,467.2 578.5,470.0 578.3,470.4C578.0,470.7 575.6,469.2 574.2,468.6C572.8,468.0 570.9,466.9 569.0,466.3C567.0,465.7 563.6,464.5 561.4,464.5C559.2,464.5 556.1,465.9 554.4,466.3C552.6,466.6 550.8,467.4 549.7,466.9C548.7,466.3 547.8,464.1 547.4,462.8C547.1,461.5 547.1,460.0 547.4,458.1Z" fill="#f6f6f6" stroke="#b8b8b8" stroke-width="1.0"/><path d="M605.1,457.0C605.8,456.4 608.9,454.9 610.4,454.6C611.9,454.4 614.3,454.5 615.0,455.2C615.8,455.9 616.2,458.6 615.6,459.3C615.0,460.0 612.4,460.0 611.0,459.9C609.6,459.8 607.2,459.2 606.3,458.7C605.4,458.3 604.5,457.6 605.1,457.0Z" fill="#c8c8c8"/><path d="M596.4,452.3C596.8,450.7 597.9,448.4 599.3,447.1C600.7,445.8 604.6,444.5 605.7,443.6C606.9,442.6 605.6,441.2 606.9,440.7C608.2,440.1 612.5,439.6 614.5,440.1C616.5,440.5 618.4,442.7 620.3,443.6C622.2,444.4 625.7,444.9 627.3,445.9C628.8,446.9 630.4,449.4 630.8,450.6C631.1,451.7 630.8,452.9 629.6,453.5C628.4,454.0 624.7,453.9 622.6,454.1C620.5,454.2 617.5,454.7 615.6,454.6C613.8,454.5 612.0,453.5 610.4,453.5C608.7,453.5 606.6,454.0 604.6,454.6C602.6,455.2 598.2,457.9 597.0,457.5C595.8,457.2 596.1,453.9 596.4,452.3Z" fill="#f6f6f6" stroke="#b8b8b8" stroke-width="1.0"/><path d="M612.1,466.3C612.4,465.1 614.6,462.4 616.2,461.0C617.8,459.7 620.4,458.7 622.6,457.5C624.8,456.4 628.8,453.9 630.8,453.5C632.8,453.0 635.1,453.9 636.0,454.6C636.9,455.3 637.2,457.2 636.6,458.1C636.0,459.1 633.3,460.0 631.9,461.0C630.5,462.1 629.0,464.1 627.3,465.1C625.5,466.2 622.2,467.5 620.3,468.0C618.4,468.6 615.7,468.9 614.5,468.6C613.2,468.4 611.9,467.4 612.1,466.3Z" fill="#f6f6f6" stroke="#b8b8b8" stroke-width="1.0"/><path d="M642.5,447.6C642.6,446.4 643.7,446.3 645.4,445.9C647.1,445.5 651.2,444.6 653.6,444.7C655.9,444.8 659.2,445.3 661.1,446.5C663.1,447.7 665.2,451.1 666.4,452.9C667.6,454.6 668.5,456.0 669.3,458.1C670.1,460.2 671.3,464.9 671.6,466.9C672.0,468.8 672.8,470.4 671.6,470.9C670.4,471.5 666.1,470.9 663.5,470.4C660.8,469.8 656.3,468.8 654.1,467.5C652.0,466.1 650.3,463.1 648.9,461.0C647.5,459.0 645.8,456.1 644.8,454.1C643.9,452.0 642.4,448.9 642.5,447.6Z" fill="#f6f6f6" stroke="#b8b8b8" stroke-width="1.0"/><path d="M664.0,444.7C664.3,443.3 665.5,441.3 667.0,440.7C668.4,440.0 671.7,440.0 673.9,440.7C676.2,441.3 680.3,443.2 682.1,444.7C683.9,446.3 685.4,449.1 686.2,451.1C687.0,453.2 687.4,455.9 687.3,458.1C687.3,460.4 686.5,464.6 685.6,466.3C684.7,467.9 682.9,469.6 681.5,469.2C680.1,468.8 677.9,465.5 676.3,463.4C674.6,461.3 672.1,457.2 670.5,455.2C668.8,453.2 666.2,451.6 665.2,450.0C664.2,448.4 663.8,446.1 664.0,444.7Z" fill="#f6f6f6" stroke="#b8b8b8" stroke-width="1.0"/><path d="M695.6,453.5C695.7,451.8 696.6,447.8 697.9,445.9C699.2,444.0 702.1,441.3 704.3,440.7C706.5,440.0 709.8,441.5 712.5,441.8C715.2,442.2 720.8,442.4 722.4,443.0C723.9,443.6 723.9,444.7 722.9,445.9C722.0,447.1 717.7,449.7 716.0,451.1C714.2,452.6 710.7,455.5 711.3,455.8C711.9,456.2 717.8,454.0 720.0,453.5C722.3,452.9 725.3,452.0 726.4,452.3C727.6,452.7 727.4,454.8 727.6,455.8C727.8,456.9 727.1,458.2 727.6,459.3C728.1,460.4 730.5,462.0 731.1,463.4C731.7,464.8 732.0,467.7 731.7,468.6C731.3,469.5 730.1,469.5 728.8,469.2C727.5,468.8 725.0,467.0 722.9,466.3C720.8,465.6 717.4,464.7 714.8,464.5C712.2,464.4 707.7,464.3 705.5,465.1C703.2,465.9 701.4,469.1 699.6,469.8C697.9,470.5 695.0,470.7 693.8,469.8C692.7,468.9 691.6,465.4 692.1,464.0C692.5,462.6 696.0,461.5 696.7,460.5C697.4,459.4 696.9,458.0 696.7,457.0C696.6,455.9 695.4,455.1 695.6,453.5Z" fill="#f6f6f6" stroke="#b8b8b8" stroke-width="1.0"/><path d="M738.7,450.0C739.2,449.1 740.3,447.8 741.6,447.6C742.8,447.5 745.3,448.1 746.8,448.8C748.3,449.5 750.7,450.7 751.5,452.3C752.3,453.9 752.4,457.4 752.1,459.3C751.7,461.2 749.8,463.3 749.1,465.1C748.4,467.0 748.1,471.0 747.4,471.5C746.7,472.1 745.5,470.3 744.5,468.6C743.4,467.0 741.4,462.7 740.4,460.5C739.4,458.2 738.3,455.0 738.1,453.5C737.8,451.9 738.1,450.9 738.7,450.0Z" fill="#f6f6f6" stroke="#b8b8b8" stroke-width="1.0"/><path d="M751.5,449.4C751.1,447.8 753.4,444.3 755.0,443.0C756.5,441.7 759.9,441.0 762.0,440.7C764.1,440.3 767.0,440.1 768.9,440.7C770.9,441.2 773.5,442.7 774.8,444.2C776.0,445.6 776.6,448.9 777.1,450.6C777.6,452.2 778.6,454.3 778.3,455.2C777.9,456.2 776.2,456.9 774.8,457.0C773.4,457.1 770.2,455.6 768.9,455.8C767.7,456.0 767.5,458.0 766.6,458.1C765.7,458.2 764.5,457.1 763.1,456.4C761.7,455.7 759.0,454.5 757.3,453.5C755.5,452.4 751.8,451.0 751.5,449.4Z" fill="#f6f6f6" stroke="#b8b8b8" stroke-width="1.0"/><path d="M766.6,466.3C766.7,465.3 767.3,463.3 768.4,462.2C769.4,461.1 772.1,459.3 773.6,458.7C775.1,458.1 777.4,457.6 778.3,458.1C779.1,458.7 779.4,460.9 779.4,462.2C779.4,463.5 779.1,466.0 778.3,466.9C777.4,467.7 775.2,467.8 773.6,468.0C772.0,468.3 768.8,468.9 767.8,468.6C766.7,468.4 766.5,467.2 766.6,466.3Z" fill="#f6f6f6" stroke="#b8b8b8" stroke-width="1.0"/><path d="M763.1,447.1C764.0,446.5 766.3,445.6 766.6,445.9C767.0,446.3 766.1,448.5 765.5,449.4C764.8,450.3 762.7,451.6 762.0,451.7C761.3,451.8 760.6,450.7 760.8,450.0C761.0,449.3 762.2,447.7 763.1,447.1Z" fill="#999"/><path d="M784.8,451.1C784.9,449.5 786.7,446.0 788.3,444.7C789.9,443.4 793.6,443.1 795.3,442.4C797.1,441.7 798.3,440.2 800.0,440.1C801.6,440.0 805.6,440.7 806.4,441.8C807.2,443.0 804.2,446.5 805.2,447.6C806.2,448.8 810.2,448.3 812.8,449.4C815.3,450.4 821.9,453.3 822.1,454.6C822.3,455.9 815.5,457.3 813.9,458.1C812.4,459.0 811.7,459.2 811.6,460.5C811.5,461.7 813.9,465.1 813.4,466.3C812.8,467.5 809.6,468.6 808.1,468.6C806.6,468.6 804.9,466.0 803.5,466.3C802.0,466.5 800.1,470.0 798.2,470.4C796.3,470.7 792.6,469.8 790.6,468.6C788.7,467.5 786.1,464.4 785.4,462.8C784.7,461.2 785.6,459.2 786.0,458.1C786.3,457.1 787.9,456.9 787.7,455.8C787.6,454.8 784.7,452.8 784.8,451.1Z" fill="#f6f6f6" stroke="#b8b8b8" stroke-width="1.0"/><path d="M828.7,453.5C828.9,451.2 831.3,445.8 832.7,444.2C834.2,442.5 838.1,441.0 838.6,442.4C839.0,443.8 836.8,450.9 835.6,453.5C834.5,456.0 832.0,459.3 831.0,459.3C829.9,459.3 828.4,455.7 828.7,453.5Z" fill="#5a6a66"/><path d="M833.3,449.4C834.6,447.6 836.9,443.9 838.6,443.0C840.2,442.0 842.8,443.3 844.4,443.0C846.0,442.6 847.2,440.7 849.0,440.7C850.9,440.6 854.7,441.4 856.6,442.4C858.5,443.5 860.6,445.8 861.9,447.6C863.1,449.5 864.2,452.5 864.8,454.6C865.4,456.8 866.1,460.4 865.9,462.2C865.8,464.0 864.8,465.9 863.6,466.9C862.4,467.8 859.5,468.8 857.8,468.6C856.0,468.4 853.4,466.5 852.0,465.7C850.6,464.9 850.0,463.7 848.5,463.4C846.9,463.0 843.6,463.3 841.5,463.4C839.4,463.5 835.8,464.7 834.5,464.0C833.2,463.3 833.4,460.0 832.7,458.7C832.0,457.4 829.7,456.6 829.8,455.2C829.9,453.8 832.0,451.2 833.3,449.4Z" fill="#f6f6f6" stroke="#b8b8b8" stroke-width="1.0"/><ellipse cx="844.7" cy="452.0" rx="1.3" ry="2.4" fill="#222"/></g>
<rect x="251.2" y="620" width="1" height="28" fill="#f3f3f3"/>
<rect x="508.6" y="632" width="1.2" height="6" fill="#999"/><rect x="508.6" y="622" width="1" height="2.5" fill="#ddd"/><rect x="508.6" y="641.5" width="1.2" height="2.5" fill="#bbb"/>
</svg></body></html>
